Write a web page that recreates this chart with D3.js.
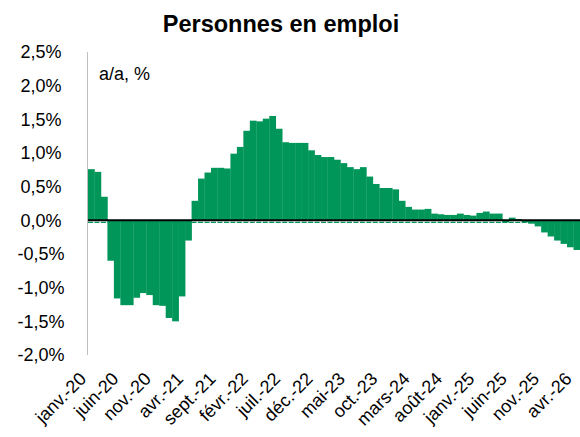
<!DOCTYPE html>
<html>
<head>
<meta charset="utf-8">
<script src="https://cdn.jsdelivr.net/npm/d3@7"></script>
<style>
  body { margin: 0; background: #fff; }
  svg { display: block; font-family: "Liberation Sans", Arial, sans-serif; }
</style>
</head>
<body>
<svg id="chart" width="580" height="437"></svg>
<script>
// Données : personnes en emploi, variation a/a en %
const moisDebut = new Date(2020, 0, 1);
const valeurs = [
  0.76, 0.72, 0.35, -0.60, -1.16, -1.26, -1.26, -1.15, -1.08, -1.11, -1.26, -1.27,
  -1.45, -1.50, -1.13, -0.30, 0.29, 0.62, 0.71, 0.78, 0.78, 0.77, 0.99, 1.09,
  1.33, 1.48, 1.47, 1.51, 1.55, 1.36, 1.16, 1.15, 1.15, 1.15, 1.04, 0.97,
  0.94, 0.94, 0.90, 0.85, 0.79, 0.76, 0.79, 0.65, 0.54, 0.48, 0.48, 0.46,
  0.29, 0.20, 0.16, 0.16, 0.17, 0.10, 0.09, 0.08, 0.08, 0.10, 0.08, 0.07,
  0.11, 0.13, 0.10, 0.10, -0.03, 0.04, 0.02, -0.03, -0.05, -0.09, -0.18, -0.24,
  -0.30, -0.35, -0.40, -0.44
];
const nomsMois = ['janv.', 'févr.', 'mars', 'avr.', 'mai', 'juin',
                  'juil.', 'août', 'sept.', 'oct.', 'nov.', 'déc.'];
const yTicks = [-2, -1.5, -1, -0.5, 0, 0.5, 1, 1.5, 2, 2.5];
const pasEtiquettes = 5;

const vert = '#00965a';

// index -> libellé du mois
const libelles = valeurs.map((v, i) => {
  const d = new Date(moisDebut.getFullYear(), moisDebut.getMonth() + i, 1);
  return nomsMois[d.getMonth()] + '-' + String(d.getFullYear()).slice(2);
});

const svg = d3.select('#chart');
const margin = { l: 88, r: 0, t: 52, b: 82 };
const width = 580, height = 437;

const x = d3.scaleBand()
  .domain(d3.range(valeurs.length))
  .range([margin.l, width - margin.r])
  .padding(0);
const y = d3.scaleLinear().domain([-2, 2.5]).range([height - margin.b, margin.t]);

// Titre
svg.append('text')
  .attr('x', 281).attr('y', 32)
  .attr('text-anchor', 'middle')
  .attr('font-size', 23.5).attr('font-weight', 'bold')
  .text('Personnes en emploi');

svg.append('text')
  .attr('x', 99).attr('y', 80)
  .attr('font-size', 18)
  .text('a/a, %');

// Axe Y
svg.append('line')
  .attr('x1', margin.l - 0.5).attr('x2', margin.l - 0.5)
  .attr('y1', y(2.5)).attr('y2', y(-2))
  .attr('stroke', '#bfbfbf').attr('stroke-width', 1);

svg.append('g').selectAll('text')
  .data(yTicks)
  .enter().append('text')
  .attr('x', 41)
  .attr('y', d => y(d))
  .attr('dy', '0.36em')
  .attr('text-anchor', 'middle')
  .attr('font-size', 18)
  .text(d => d3.format('.1f')(d).replace('.', ',').replace('−', '-') + '%');

// Barres
svg.append('g').selectAll('rect')
  .data(valeurs)
  .enter().append('rect')
  .attr('x', (d, i) => x(i))
  .attr('width', x.bandwidth() + 0.3)
  .attr('y', d => y(Math.max(0, d)))
  .attr('height', d => Math.abs(y(d) - y(0)))
  .attr('fill', vert);

// petite bordure verte pointillée sous la ligne zéro
svg.append('line')
  .attr('x1', margin.l).attr('x2', width)
  .attr('y1', y(0) + 2).attr('y2', y(0) + 2)
  .attr('stroke', vert).attr('stroke-width', 1.2)
  .attr('stroke-dasharray', (x.bandwidth() - 1.5) + ',1.5');

// Ligne zéro
svg.append('line')
  .attr('x1', margin.l).attr('x2', width)
  .attr('y1', y(0)).attr('y2', y(0))
  .attr('stroke', '#000').attr('stroke-width', 2);

// Étiquettes X (tous les 5 mois)
svg.append('g').selectAll('text')
  .data(d3.range(0, valeurs.length, pasEtiquettes))
  .enter().append('text')
  .attr('text-anchor', 'end')
  .attr('font-size', 18)
  .attr('transform', i => `translate(${x(i) + x.bandwidth() / 2 - 4},${height - margin.b + 25}) rotate(-45)`)
  .text(i => libelles[i]);
</script>
</body>
</html>
